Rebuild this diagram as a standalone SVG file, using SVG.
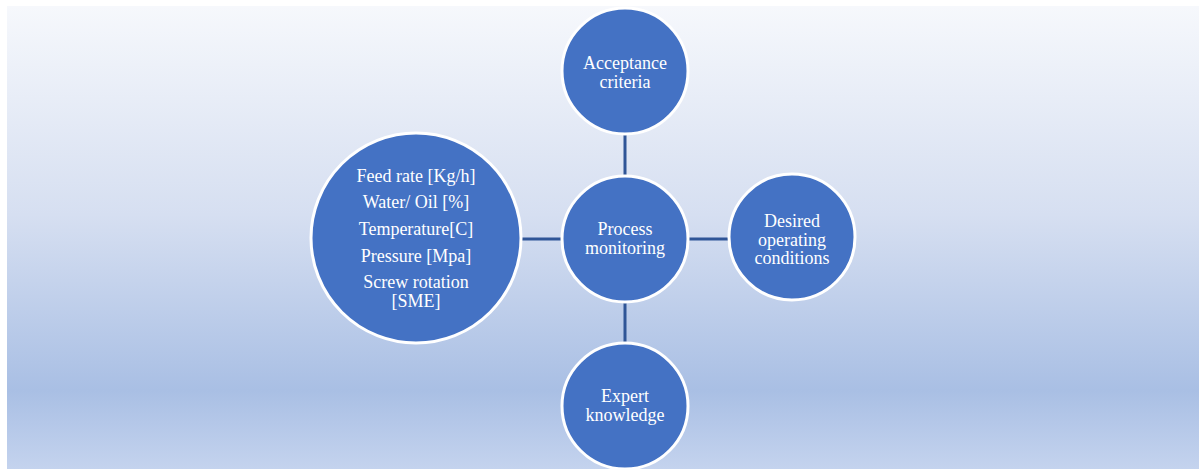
<svg xmlns="http://www.w3.org/2000/svg" width="1199" height="469" viewBox="0 0 1199 469">
<defs>
<linearGradient id="bg" x1="0" y1="0" x2="0" y2="1">
<stop offset="0" stop-color="#f6f8fc"/>
<stop offset="0.45" stop-color="#d6dff1"/>
<stop offset="0.83" stop-color="#a9bfe4"/>
<stop offset="1" stop-color="#c4d3ee"/>
</linearGradient>
<style>
.n{fill:#4472c4;stroke:#ffffff;stroke-width:3}
.t{fill:#ffffff;font-family:"Liberation Serif","Times New Roman",serif;font-size:18px;text-anchor:middle}
.c{stroke:#2f5597;stroke-width:3;fill:none}
</style>
</defs>
<rect x="0" y="0" width="1199" height="469" fill="#ffffff"/>
<rect x="7" y="6" width="1192" height="463" fill="url(#bg)"/>
<g id="connectors">
<line class="c" x1="520" y1="239" x2="563" y2="239"/>
<line class="c" x1="688" y1="239" x2="728" y2="239"/>
<line class="c" x1="625" y1="134" x2="625" y2="177"/>
<line class="c" x1="625" y1="301" x2="625" y2="343"/>
</g>
<g id="node-params">
<circle class="n" cx="416" cy="238" r="105"/>
<text class="t" x="416" y="182">Feed rate [Kg/h]</text>
<text class="t" x="416" y="208">Water/ Oil [%]</text>
<text class="t" x="416" y="235">Temperature[C]</text>
<text class="t" x="416" y="262">Pressure [Mpa]</text>
<text class="t" x="416" y="288">Screw rotation</text>
<text class="t" x="416" y="307">[SME]</text>
</g>
<g id="node-process">
<circle class="n" cx="625" cy="239" r="63"/>
<text class="t" x="625" y="235">Process</text>
<text class="t" x="625" y="254">monitoring</text>
</g>
<g id="node-acceptance">
<circle class="n" cx="625" cy="71" r="63"/>
<text class="t" x="625" y="69">Acceptance</text>
<text class="t" x="625" y="88">criteria</text>
</g>
<g id="node-desired">
<circle class="n" cx="792" cy="237" r="63"/>
<text class="t" x="792" y="227">Desired</text>
<text class="t" x="792" y="246">operating</text>
<text class="t" x="792" y="264">conditions</text>
</g>
<g id="node-expert">
<circle class="n" cx="625" cy="406" r="63"/>
<text class="t" x="625" y="402">Expert</text>
<text class="t" x="625" y="421">knowledge</text>
</g>
</svg>
